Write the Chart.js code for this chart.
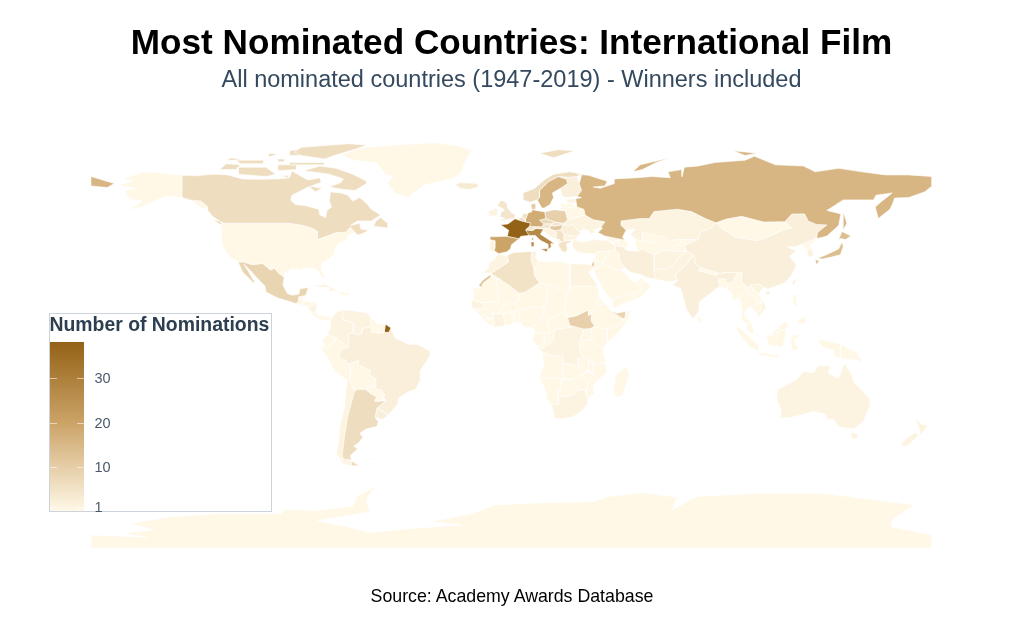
<!DOCTYPE html>
<html>
<head>
<meta charset="utf-8">
<title>Most Nominated Countries: International Film</title>
<script src="https://cdn.jsdelivr.net/npm/chart.js@4"></script>
<style>
  html, body { margin: 0; padding: 0; background: #fff; }
  body { width: 1024px; height: 634px; position: relative; overflow: hidden; font-family: "Liberation Sans", Arial, sans-serif; }
  #map { position: absolute; left: 0; top: 0; }
  #source { position: absolute; left: 0; width: 1024px; top: 586px; text-align: center; font-size: 17.75px; line-height: 20px; color: #000; }
  #legend { position: absolute; left: 48.5px; top: 312.5px; width: 221px; height: 197px; border: 1.5px solid #cdd3da; }
  #legend-title { position: absolute; left: 0; top: 0; font-size: 19.4px; font-weight: bold; line-height: 20px; color: #2c3e50; white-space: nowrap; }
  #legend-bar { position: absolute; left: 0; top: 28px; width: 34px; height: 169px; }
  .tick { position: absolute; width: 7px; height: 1px; background: rgba(255,255,255,.55); }
  .tick-label { position: absolute; left: 45px; font-size: 14.5px; line-height: 16px; color: #4a5a6c; }
</style>
</head>
<body>
<canvas id="map" width="1024" height="634"></canvas>
<div id="legend">
  <div id="legend-title">Number of Nominations</div>
  <div id="legend-bar"></div>
</div>
<div id="source">Source: Academy Awards Database</div>
<script>
// nominations per country, same order as the draw order
const countries = [
  'Antarctica','Russia','Canada','USA','Alaska','Greenland','Iceland','Mexico','Guatemala','Belize','Honduras','El Salvador','Nicaragua','Costa Rica','Panama','Cuba','Haiti','Dominican Rep','Jamaica','Puerto Rico',
  'Colombia','Venezuela','Guyana','Suriname','French Guiana','Brazil','Ecuador','Peru','Bolivia','Paraguay','Argentina','Chile','Uruguay','Falklands',
  'Morocco','Western Sahara','Mauritania','Algeria','Tunisia','Libya','Egypt','Sudan','South Sudan','Chad','Niger','Mali','Burkina Faso','Senegal','Guinea-Bissau','Guinea','Sierra Leone','Liberia','Ivory Coast','Ghana','Togo','Benin','Nigeria','Cameroon','CAR','Gabon','Congo','DR Congo','Uganda','Kenya','Rwanda','Tanzania','Eritrea','Ethiopia','Somaliland','Somalia','Mozambique','Malawi','Zambia','Angola','Namibia','Botswana','Zimbabwe','South Africa','Lesotho','Madagascar',
  'France','Spain','Portugal','UK','Ireland','Belgium','Netherlands','Germany','Denmark','Switzerland','Austria','Italy','Poland','Czechia','Slovakia','Hungary','Romania','Bulgaria','Greece','Albania','Yugoslavia','Croatia','Ukraine','Moldova','Belarus','Lithuania','Latvia','Estonia','Norway','Sweden','Finland',
  'Turkey','Georgia','Armenia','Azerbaijan','Syria','Lebanon','Iraq','Iran','Israel','Jordan','Saudi Arabia','Yemen','Oman','UAE',
  'China','Mongolia','Kazakhstan','Uzbekistan','Turkmenistan','Kyrgyzstan','Afghanistan','Pakistan','India','Nepal','Bangladesh','Myanmar','Thailand','Laos','Vietnam','Cambodia','Malaysia','Indonesia','Philippines','Japan','North Korea','South Korea','Taiwan','Sri Lanka','Papua New Guinea','Australia','New Zealand'
];
const nominations = [
  1,16,7,1,1,1,4,9,1,1,1,1,2,1,1,2,1,1,1,2,
  2,2,1,1,38,3,1,1,1,1,7,2,3,1,
  2,12,1,6,2,1,2,1,10,1,1,1,1,2,1,1,1,1,2,1,1,1,1,1,1,1,1,2,1,1,1,1,1,1,9,1,1,1,1,1,1,1,1,2,1,1,
  38,20,2,5,2,7,6,18,11,5,5,27,10,8,5,12,3,2,6,1,6,2,2,1,1,1,1,2,7,16,3,
  2,1,1,1,1,4,1,3,11,1,1,1,1,1,
  3,1,2,1,1,1,2,2,3,1,1,1,1,1,2,1,1,1,1,14,1,2,2,1,1,2,2
];
// rings of lon,lat pairs, rings split by |
const outlines = {
  'Antarctica': '-180,-84.4 -155.8,-85.4 -166,-83.7 -153.5,-82.3 -162.9,-79.4 -145.3,-76.6 -124.3,-75.2 -98.5,-75.2 -97.4,-73.5 -82.2,-74 -68,-72 -66,-68 -60,-64.5 -57,-63.3 -61,-67 -62,-70 -60.6,-74.5 -83.3,-78.3 -70.5,-80.9 -60,-83.4 -42.4,-81.6 -21.4,-80.2 -34.2,-78.7 -16.7,-75.2 -7.3,-71.6 13.8,-70.6 34.8,-70.2 41.8,-68 55.9,-66.3 71,-68.3 68.7,-73.7 79.2,-68 105,-66.6 133,-66.6 172.8,-71.6 163.5,-77.3 162.3,-80.9 180,-84.4 180,-90 -180,-90',
  'Russia': '28,70 33,69.5 41,67 40,65 35,64.5 38,64 44,66 44,68 54,68.5 60,69 68,68.5 67,71 73,72 73,69 74,73 80,73.5 87,75 100,76 104,77.7 113,74 125,73.5 130,71 140,72.5 150,71 160,69.7 170,69.7 180,69 180,65 177,62.5 170,60 164,59.8 163,57 162,55 157,51 155.7,56 158,58 163,62 156,61 155,59 142,59 135,54.5 141,53 140,48 135,43.5 131,42.5 130.7,43 131,45 135,48.3 130.5,48.5 127,50 125.5,53 120,53 117,49.7 108,49.5 98.5,52 92,50.8 87.5,49.2 83,51 77,54 71,55 61,54 59,51 55,51 47,50 47,48 49,46 47.5,43 48.5,41.8 45,42.5 40,43.5 37,45 39,47 38.2,47.2 40,49.6 35,50.5 31.5,52.5 31,55 28,56 27.5,59.5 30,60 28,60.5 30,63 29,66 30,69.5|-180,69 -175,67.5 -170,66 -173,64.3 -180,65|52,71 55,74 68,77 62,75 56,72|95,80 105,79 100,78|142,54 143.5,49 142,46 142,50',
  'Canada': '-141,69.6 -135,69.3 -128,70 -122,69.8 -115,68 -108,67.8 -100,68 -95,68.5 -94,71.5 -90,69 -87,67.5 -82,68.5 -81.5,66.5 -87,64.5 -94,61 -94.5,58.8 -92.5,57 -88,56.5 -82.5,55 -82,52.5 -79.5,51.5 -79,54.5 -77,56 -78,58.5 -77.5,62.4 -73,62 -70,61 -68,58.5 -65,60 -62,57.5 -60,55 -56,52.5 -60,50 -66,50 -69,48 -65,49 -64.5,46.5 -61,46 -64,44.5 -66,44 -67,45.2 -69,47.3 -71,45.2 -75,45 -79,43.5 -83,42 -83,45.5 -84.5,46.5 -89,48 -95,49 -123,49 -125,50 -128,52 -130,54.5 -130,56 -133,58.5 -137.5,59 -141,60|-62,66 -67,63 -72,63.5 -78,64.5 -73,66.5 -72,68 -78,70 -89,71.5 -82,73.5 -75,72.5 -68,70 -62,67|-62,82.5 -70,83 -90,81.5 -93,79.5 -90,78 -80,76.5 -76,78 -66,81|-117,70 -105,69 -101,70 -105,73 -117,73|-125,72 -118,72 -116,74 -122,74.5|-95,75 -80,75 -80,74 -95,74|-95,80 -88,81 -87,78 -95,78|-59,47.7 -53,47 -53,49 -56,51.5 -58,50|-118,76 -106,76 -106,74.5 -116,74.5|-100,74 -92,74 -92,72 -100,71.5|-128,50.5 -125,50 -123.5,48.5 -125,48.7|-87,65 -81,64 -84,62.5|-120,77 -116,76.5 -118,76 -122,76|-104,79 -100,78.5 -104,77.5|-100,76.5 -97,76.5 -97,75.3 -100,75.3|-99,69.5 -95,69.3 -96,68.5',
  'USA': '-123,49 -95,49 -89,48 -84.5,46.5 -83,45.5 -83,42 -79,43.5 -75,45 -71,45.2 -69,47.3 -67,45.2 -70,43.5 -70.5,41.7 -74,40.6 -75.5,38 -76,35.5 -78,34 -81,32 -81.5,30 -80,26.5 -80.5,25 -82,27 -83,29 -85,29.7 -89,30 -89.5,29 -94,29.5 -97,27.8 -97.3,26 -99.5,27.5 -101.5,29.8 -103,29 -106.5,31.8 -111,31.3 -114.8,32.5 -117.1,32.5 -120.5,34.5 -122.5,37.5 -124.3,40.3 -124,46 -124.7,48.4',
  'Alaska': '-141,69.6 -141,60 -137.5,59 -133,58.5 -130,56 -130,55 -133,55.5 -136,58 -141,59.8 -147,60.7 -152,59 -154,58 -158,56 -164,54.7 -160,57 -158,58.7 -162,59 -165,61 -165,63 -161,64 -166,64.6 -168,65.6 -162,67 -166,68.3 -157,71 -150,70.5',
  'Greenland': '-73,78.2 -68,76 -58,75 -54,70 -51,69 -53,66 -50,62 -44,60 -42,62 -37,65.5 -26,68 -22,70 -20,75 -17,80 -22,82 -33,83.5 -50,82.5 -62,81.5 -67,80.5',
  'Iceland': '-24,65.5 -22,64 -18,63.4 -14,64.5 -14.7,66 -18,66.2 -22,66.4',
  'Mexico': '-117.1,32.5 -114.8,32.5 -111,31.3 -106.5,31.8 -103,29 -101.5,29.8 -99.5,27.5 -97.3,26 -97.8,22.5 -96,19 -94,18.2 -91,18.7 -90.5,21 -87,21.5 -88,18.2 -89,17.9 -91,17.5 -91,16 -92.2,14.6 -96,15.8 -100,17 -105,19.5 -105.5,22 -109,25.7 -112.5,29.5 -114.7,31.5 -113,29 -110,24 -110,23 -112,25 -115,28',
  'Guatemala': '-92.2,14.6 -91,16 -91,17.5 -89,17.9 -89,15.9 -88.3,15.7 -89.3,14.4 -90,13.8',
  'Belize': '-89,17.9 -88,18.2 -88.3,16 -89,15.9',
  'Honduras': '-89.3,14.4 -88.3,15.7 -83.2,15 -84,14.7 -87.3,13',
  'El Salvador': '-90,13.8 -89.3,14.4 -87.3,13.3 -87.8,13.2',
  'Nicaragua': '-87.3,13 -84,14.7 -83.2,15 -83.7,11 -85.7,11',
  'Costa Rica': '-85.7,11 -83.7,11 -82.6,9.5 -83,8.3 -85.7,10',
  'Panama': '-83,8.3 -82.6,9.5 -79.5,9.5 -77.2,8.6 -77.8,7.2 -80,7.3',
  'Cuba': '-85,21.9 -80,23 -75,20.5 -74.2,20.2 -77.7,19.9 -78,21.5',
  'Haiti': '-74.4,18.5 -72.8,19.9 -71.7,19.8 -71.7,18 -72.5,18.2',
  'Dominican Rep': '-71.7,19.8 -68.4,18.7 -71,18 -71.7,18',
  'Jamaica': '-78.3,18.4 -76.3,18.1 -77.2,17.7',
  'Puerto Rico': '-67.2,18.5 -65.7,18.4 -66,18 -67.2,18',
  'Colombia': '-77.2,8.6 -75,10.8 -71.5,12.4 -72,11 -72.5,8 -70,7 -67.5,6 -67.8,2.8 -67,2 -69.8,1.7 -70,0.5 -69.5,-1 -70,-4.2 -72,-2.5 -75,0 -78.8,1.4 -77.5,4 -77.5,7',
  'Venezuela': '-71.5,12 -68,11.5 -62,10.7 -60,8.5 -60.5,6.5 -60,5.2 -61,4.5 -64,4 -64,2 -66,1 -67,2 -67.8,2.8 -67.5,6 -70,7 -72.5,8 -72,11',
  'Guyana': '-60,8.5 -57.2,6 -57,1.9 -59.8,2.5 -60,5.2 -60.5,6.5',
  'Suriname': '-57.2,6 -54,5.9 -54.5,2.3 -57,1.9',
  'French Guiana': '-54,5.9 -51.6,4.2 -52.5,2.3 -54.5,2.3',
  'Brazil': '-51.6,4.2 -50,0 -48,-1 -44,-2.8 -40,-3 -35.2,-5.5 -34.8,-7.5 -37,-11 -39,-14 -39,-18 -41,-22 -45,-23.5 -48.5,-26 -48.7,-28.5 -53.4,-33.7 -53.2,-32.5 -57.6,-30.2 -53.7,-27 -54.6,-25.6 -54.3,-24 -55.8,-22.3 -57.8,-22 -58,-19.8 -58,-17.5 -60.2,-16.3 -60.5,-13.8 -65.3,-11.7 -65.4,-9.7 -69.5,-11 -70.6,-11 -70.6,-9.5 -73,-9.4 -74,-7.3 -72.8,-5 -70,-4.2 -69.5,-1 -70,0.5 -69.8,1.7 -67,2 -66,1 -64,2 -64,4 -61,4.5 -60,5.2 -59.8,2.5 -57,1.9 -54.5,2.3 -52.5,2.3',
  'Ecuador': '-78.8,1.4 -75,0 -75.5,-1.5 -78,-3 -79,-5 -80.3,-3.4 -81,-1',
  'Peru': '-80.3,-3.4 -79,-5 -78,-3 -75.5,-1.5 -75,0 -72,-2.5 -70,-4.2 -72.8,-5 -74,-7.3 -73,-9.4 -70.6,-9.5 -70.6,-11 -69,-12.5 -69,-16 -69.5,-17.5 -70.4,-18.3 -76,-14 -79,-8 -81.3,-5',
  'Bolivia': '-69.5,-11 -65.4,-9.7 -65.3,-11.7 -60.5,-13.8 -60.2,-16.3 -58,-17.5 -58,-19.8 -62.5,-22 -66,-22 -67.2,-22.8 -69,-19 -69.5,-17.5 -69,-16 -69,-12.5 -70.6,-11',
  'Paraguay': '-58,-19.8 -57.8,-22 -55.8,-22.3 -54.3,-24 -54.6,-25.6 -55,-27 -58.5,-27.2 -57.7,-25.3 -60,-24 -62.5,-22',
  'Argentina': '-66,-22 -62.5,-22 -60,-24 -57.7,-25.3 -58.5,-27.2 -55,-27 -53.7,-27 -57.6,-30.2 -58.4,-34 -57,-36 -57.6,-38 -62,-39 -65,-41 -63.5,-42.5 -65.5,-45 -67.5,-46.5 -65.8,-47.5 -69,-50.5 -68.4,-52.3 -72,-52 -72.5,-50 -71.7,-44 -71,-39 -70,-33 -68.3,-27 -67.2,-22.8|-68.6,-52.6 -65.2,-54.8 -68.6,-54.9',
  'Chile': '-69.5,-17.5 -69,-19 -67.2,-22.8 -68.3,-27 -70,-33 -71,-39 -71.7,-44 -72.5,-50 -72,-52 -68.4,-52.3 -71,-53.5 -75,-50 -74,-44 -73.5,-38 -71.5,-30 -70.4,-18.3|-68.6,-52.6 -68.6,-54.9 -72,-54 -74,-52',
  'Uruguay': '-57.6,-30.2 -53.2,-32.5 -53.4,-33.7 -55,-35 -58.4,-34',
  'Falklands': '-61,-51.5 -58,-51.3 -59,-52.3',
  'Morocco': '-5.9,35.8 -2,35.1 -1.2,32.5 -5,30 -8.7,27.7 -13,27.7 -10,29.5 -9.5,32 -6.8,34',
  'Western Sahara': '-8.7,27.3 -8.7,26 -12,23.5 -13,21.5 -14,22.5 -12.5,24.5',
  'Mauritania': '-17,21.3 -13,21.3 -12,23.5 -8.7,26 -8.7,27.3 -4.8,25 -6.5,25 -5.5,15.5 -12,15 -16.5,16.2 -16,19',
  'Algeria': '-2,35.1 1,36.5 8.6,36.9 8.3,33 9.5,30 9.8,26.5 12,23.5 5.8,19.5 3.3,19 1.2,20.8 -4.8,25 -8.7,27.3 -8.7,27.7 -5,30 -1.2,32.5',
  'Tunisia': '8.6,36.9 11,37 10.2,34.3 11.5,33 10,30 9.5,30 8.3,33',
  'Libya': '11.5,33 15.2,32.3 20,32.8 25,31.7 25,20 24,19.5 15,23 12,23.5 9.8,26.5 9.5,30 10,30',
  'Egypt': '25,31.7 31,31.5 34.2,31.3 34.8,29.5 33,28 35.8,23.9 37,22 25,22',
  'Sudan': '25,22 37,22 37.5,18 36.5,14 34.3,10.5 33,9.5 33,12 28,9.5 24,8.7 23.5,10 22.5,13 24,19.5 25,20',
  'South Sudan': '24,8.7 28,9.5 33,12 33,9.5 34.3,10.5 34,7.5 35.5,5 34,4 31,3.7 28,4.5 25,5.2',
  'Chad': '15,23 24,19.5 22.5,13 23.5,10 22,11 19,9 15.5,7.5 14,12.5 14,13 15.5,16.5',
  'Niger': '12,23.5 15,23 15.5,16.5 14,13 13,13.5 8,13 4,12 3,12 2,14 1,15 3.3,16 3.3,19 5.8,19.5',
  'Mali': '-4.8,25 1.2,20.8 3.3,19 3.3,16 1,15 -1,15 -3.5,13.5 -5.5,10.5 -8,10.3 -9,12 -11.5,12.4 -12,15 -5.5,15.5 -6.5,25',
  'Burkina Faso': '-1,15 1,15 2,14 3,12 0,11 -3,11 -3.5,10 -5.5,10.5 -3.5,13.5',
  'Senegal': '-16.5,16.2 -12,15 -11.5,12.4 -16.7,12.4 -17.4,14.7',
  'Guinea-Bissau': '-16.7,12.4 -13.7,12.4 -15,11',
  'Guinea': '-13.7,12.4 -11.5,12.4 -9,12 -8,10.3 -8,8 -10,8.5 -11,10 -13.3,9.5 -15,11',
  'Sierra Leone': '-13.3,9.5 -11,10 -10.5,8.3 -11.5,7',
  'Liberia': '-11.5,7 -10.5,8.3 -8,8 -7.5,4.4',
  'Ivory Coast': '-8,8 -8,10.3 -5.5,10.5 -3.5,10 -3,5 -7.5,4.4',
  'Ghana': '-3,11 0,11 0.5,6 -3,5 -3.5,10',
  'Togo': '0,11 1,11 1.8,6.2 0.5,6',
  'Benin': '1,11 3,12 3.6,10 2.7,6.3 1.8,6.2',
  'Nigeria': '3,12 4,12 8,13 13,13.5 14,12.5 13.3,10 11.5,7 8.7,4.5 5.5,4.3 4,6.3 2.7,6.3 3.6,10',
  'Cameroon': '14,12.5 15.5,7.5 16,2 13,2.2 9.8,2.2 9.5,4 8.7,4.5 11.5,7 13.3,10',
  'CAR': '15.5,7.5 19,9 22,11 23.5,10 24,8.7 25,5.2 27.4,5 22,4 18.6,3.5 16,2',
  'Gabon': '9.8,2.2 13,2.2 14.2,1 14,-2 11,-3.8 9,-1',
  'Congo': '13,2.2 16,2 18.6,3.5 17.7,-1 16,-3 12,-5 11,-3.8 14,-2 14.2,1',
  'DR Congo': '18.6,3.5 22,4 27.4,5 31,3.7 29.7,0 29,-2.5 29.5,-6 30.5,-8.3 28.5,-9 28.5,-12 29.8,-13.3 27,-11.7 22,-11 22,-8 17,-7.5 13,-5.9 12,-5 16,-3 17.7,-1',
  'Uganda': '31,3.7 34,4 34.5,1 33.9,-1 29.7,-1.3 29.7,0',
  'Kenya': '34,4 36,4.5 40,3.8 41,3.9 41,-1.7 39.2,-4.7 33.9,-1 34.5,1',
  'Rwanda': '29.7,-1.3 30.8,-1.3 30.5,-4 29.3,-4.4 29,-2.5',
  'Tanzania': '33.9,-1 39.2,-4.7 39.5,-7 40.4,-10.5 35,-11.5 34.6,-10 32,-9.3 30.5,-8.3 29.5,-6 29.3,-4.4 30.5,-4 30.8,-1.3',
  'Eritrea': '37.5,18 39,15.5 43,12.5 42,12.5 40,14.5 36.5,14',
  'Ethiopia': '36.5,14 40,14.5 42,12.5 43,11 48,8 45,5 41.9,4 41,3.9 40,3.8 36,4.5 34,4 35.5,5 34,7.5 34.3,10.5',
  'Somaliland': '43,11.3 45,10.5 48.9,11.3 48.9,9.5 48,8 43,10',
  'Somalia': '48.9,11.3 51.2,11.8 50,8 46,2.5 41.5,-1.7 41,-1.7 41,3.9 41.9,4 45,5 48,8 48.9,9.5',
  'Mozambique': '40.4,-10.5 40.8,-15 35,-20 35.5,-24 32.8,-26 32,-24.5 32.5,-21 33,-19 30.3,-15.6 34,-14.5 35,-16.5 35,-11.5',
  'Malawi': '33,-9.5 34.6,-10 35,-11.5 35,-16.5 34,-14.5 33,-13.5',
  'Zambia': '22,-11 27,-11.7 29.8,-13.3 28.5,-12 28.5,-9 30.5,-8.3 32,-9.3 33,-9.5 33,-13.5 30.3,-15.6 28,-17 25,-17.8 23,-17.6 22,-16 22,-13',
  'Angola': '13,-5.9 17,-7.5 22,-8 22,-11 22,-13 22,-16 23,-17.6 18,-17.4 11.8,-17.3 13.5,-12.5 13.7,-10',
  'Namibia': '11.8,-17.3 18,-17.4 25,-17.8 21,-18.3 21,-22 20,-22 20,-28.4 17,-28.7 15,-26 14.5,-22',
  'Botswana': '21,-18.3 25,-17.8 27,-20 29.3,-22.2 26,-24.7 23,-25.3 20,-24.8 20,-22 21,-22',
  'Zimbabwe': '25,-17.8 28,-17 30.3,-15.6 33,-19 32.5,-21 31.3,-22.4 29.3,-22.2 27,-20',
  'South Africa': '17,-28.7 20,-28.4 20,-24.8 23,-25.3 26,-24.7 29.3,-22.2 31.3,-22.4 32,-24.5 32.8,-26 32.5,-28.5 30,-31.5 26,-34 20,-34.8 18.3,-34.2 18,-32',
  'Lesotho': '28,-29.2 29.4,-29.8 28,-30.6 27,-29.8',
  'Madagascar': '49.3,-12 50.4,-15.5 47.5,-24.8 45,-25.5 43.5,-23 44,-20 44.5,-16.2',
  'France': '-1.8,43.4 -1.2,46 -4.7,48.4 -1.5,48.7 1.5,50.9 4.2,50 8.2,49 7.6,47.6 6,46.2 7.5,43.8 4,43.4 3.2,42.4|8.6,42.3 9.5,43 9.5,41.5',
  'Spain': '-9.2,43.2 -1.8,43.4 3.2,42.4 0,39.8 -0.5,38 -2,36.8 -5.4,36 -7.4,37.2 -7,38.5 -7,41.5 -8.8,41.9',
  'Portugal': '-8.8,41.9 -7,41.5 -7,38.5 -7.4,37.2 -9,37 -9.5,38.7',
  'UK': '-5.5,50 1.4,51.2 1.7,52.8 0,53.5 -1.8,55.7 -2,57.6 -3.5,58.6 -5,58.6 -6,56.5 -3,54.8 -4.7,53.2 -5,51.7 -3,51.3',
  'Ireland': '-10,52 -6.2,52.2 -6,54 -5.6,54.7 -7,55.3 -8.5,54.8 -10,54',
  'Belgium': '2.5,51.1 4.2,51.4 6,50.8 5.8,49.5 4.2,50',
  'Netherlands': '4.2,51.4 4.8,53 7,53.4 6,50.8',
  'Germany': '6,50.8 7,53.4 8.8,54 8.7,54.9 11,54.4 14.2,53.9 14.7,51 12,50.3 13.8,48.7 13,47.5 7.6,47.6 8.2,49 5.8,49.5',
  'Denmark': '8.7,54.9 8.2,57 10.5,57.7 10.5,55',
  'Switzerland': '6,46.2 7.6,47.6 9.6,47.5 10.4,46.8 9,45.9',
  'Austria': '9.6,47.5 13,47.5 13.8,48.7 17,48.7 16.2,46.8 10.4,46.8',
  'Italy': '6.8,44 6,46.2 9,45.9 10.4,46.8 13.7,46.5 12.4,44.3 13.5,43.6 16,41.9 18.5,40.2 16.8,40.3 17,39 16,38 15.7,40 12.3,41.7 10.2,43.8 7.5,43.8|12.5,38 15.6,38.2 15.1,36.7|8.3,41 9.7,41 9.6,39 8.5,39',
  'Poland': '14.2,53.9 18.5,54.8 23,54.3 24,50.5 22.5,49 19,49.4 14.7,51',
  'Czechia': '12,50.3 14.7,51 18.8,49.6 17,48.7 13.8,48.7',
  'Slovakia': '17,48.7 18.8,49.6 19,49.4 22.5,49 22,48.4 18,47.8',
  'Hungary': '16.2,46.8 17,48 18,47.8 22,48.4 21,46.2 18.5,45.8',
  'Romania': '22,48.4 24.5,48 26.6,48.3 28.2,46 29.7,45.2 28.5,43.7 25,43.7 22.5,44.3 21,46.2',
  'Bulgaria': '22.5,44.3 25,43.7 28.5,43.7 27.7,42 26.5,42 23,41.4 22.4,42.3',
  'Greece': '20,39.7 21,41 23,41.4 26.5,41.6 23.5,40 24,38 23,36.5 21.5,37',
  'Albania': '19.4,42 20.5,42 21,41 20,39.7',
  'Yugoslavia': '18.5,45.8 21,46.2 22.5,44.3 22.4,42.3 23,41.4 21,41 20.5,42 19.4,42 19,43.3 19.4,44.8',
  'Croatia': '13.7,46.5 16.2,46.8 18.5,45.8 19.4,44.8 19,43.3 19.4,42 16,43.5 14.5,45 13.6,45.5',
  'Ukraine': '24,50.5 31.5,52.5 35,50.5 40,49.6 38.2,47.2 35,46 36,45 33.5,44.5 33,46 30.7,46.5 29.7,45.2 28.2,46 26.6,48.3 24.5,48 22,48.4 22.5,49',
  'Moldova': '26.6,48.3 29.5,48 30,46.5 28.2,46',
  'Belarus': '23,52 24,50.5 31.5,52.5 31,55 28,56 26,55.7 23.5,54',
  'Lithuania': '21,56.1 21,55.2 23,54.3 23.5,54 26,55.7',
  'Latvia': '21,56.1 21,57.5 24,57.2 25,58 28,56 26,55.7',
  'Estonia': '24,57.9 23.5,59.2 28,59.5 27.5,57.6',
  'Norway': '5,59 5,62 10,64 14,67.5 18,70 25,71 31,70 28,69 25,68.7 20,69 16,67 14,65 12,63 12,60 11,59 8,58|12,79 20,80.5 27,80 18,77',
  'Sweden': '11,59 12,60 12,63 14,65 16,67 20,69 23.5,67.8 24,66 21,64 17.5,62 18,60 16.5,57 14,55.5 13,55.5',
  'Finland': '21,64 24,66 23.5,67.8 20,69 25,68.7 28,69 29,66 30,63 28,60.5 23,60 21.5,61',
  'Turkey': '26,40 26.5,42 28,41.5 31,41 35,42 41.5,41.5 44.5,39.5 44.5,37.5 42,37 36.5,36.8 36,36 32,36 28,36.7 26.5,38.5',
  'Georgia': '40,43.5 45,42.5 46.5,41.8 43.5,41 41.5,41.5',
  'Armenia': '43.5,41 45.5,41 46.5,39 44.5,39.5',
  'Azerbaijan': '45,42.5 48.5,41.8 50,40.3 49,37.5 48,39 46.5,39 45.5,41 46.5,41.8',
  'Syria': '36,36 36.5,36.8 42,37 39,32.5 36,33 35.8,34.6',
  'Lebanon': '35.2,33 36,33 36.5,34.5 35.9,34.6',
  'Iraq': '39,32.5 42,37 44.5,37.5 46,36 46,33 48.5,30 46.5,29 44.5,29 39,32',
  'Iran': '44.5,39.5 48,39 49,37.5 54,37 56,38 61,35.5 61,33 61,29.5 61.5,25 57,26 56,27 51,28 48.5,30 46,33 46,36 44.5,37.5',
  'Israel': '34.2,31.3 35.2,33 35.5,31.5 34.9,29.5',
  'Jordan': '35.5,31.5 35.5,33 36,33 39,32.5 39,32 37,30 34.9,29.5',
  'Saudi Arabia': '34.8,29.5 37,30 39,32 44.5,29 46.5,29 48.5,28 50,26 51.5,24.5 55,22.7 55.5,20 52,19 49,18.5 45,17.3 43,16.5 42.5,16.5 39,21 36.5,26',
  'Yemen': '43,16.5 45,17.3 49,18.5 52,19 53,16.6 45,13 43.5,12.7',
  'Oman': '52,19 55.5,20 55,22.7 56.4,24.7 59.8,22.5 58,20 55,17 53,16.6',
  'UAE': '51.5,24.5 55,22.7 56.4,24.7 56,26 54,24.2',
  'China': '135,48.3 131,45 130.7,43 128,41.5 124.4,40 121.5,39 118,39 122,37 119,35 122,31 120,27 117,23.5 110,21 108,21.6 106,23 102,22.5 101,21.3 98.5,24 98.7,28 97,28 92,28 88.8,27.5 88,27.8 81,30 78.8,31.5 78,35.5 75,37 74,39.5 80,42 80.5,45 85.5,47 87.5,49.2 91,46 96,43 105,41.5 111,43.5 116,46 120,47 117,49.7 120,53 125.5,53 127,50 130.5,48.5|109,20 111,19.8 110,18.3 108.7,18.7',
  'Mongolia': '87.5,49.2 92,50.8 98.5,52 108,49.5 117,49.7 120,47 116,46 111,43.5 105,41.5 96,43 91,46',
  'Kazakhstan': '47,50 55,51 59,51 61,54 71,55 77,54 83,51 87.5,49.2 85.5,47 80.5,45 80,42 70,42 68,41 66,43 61,44 56,45 56,41.5 53,42 51,44.5 53,46.5 49,46 47,48',
  'Uzbekistan': '56,45 61,44 66,43 68,41 70,42 73,41 71,40 68,37.3 65,37.5 61,41 56,41.5',
  'Turkmenistan': '53,42 56,41.5 61,41 65,37.5 61,35.5 56,38 54,37 53,40',
  'Kyrgyzstan': '70,42 80,42 74,39.5 75,37 71.5,37 68,37.3 71,40 73,41',
  'Afghanistan': '61,35.5 65,37.5 68,37.3 71.5,37 75,37 71,34 69.5,31 66,29.5 61,29.5 61,33',
  'Pakistan': '61,29.5 66,29.5 69.5,31 71,34 75,37 78,35.5 74.5,31 70,27 71,24.5 67,24 61.5,25',
  'India': '74.5,31 78,35.5 78.8,31.5 81,30 80,28.7 88,26.5 88,27.8 88.8,27.5 92,28 97,28 94.5,24 92.5,23 91.5,24.5 92,25 88.5,25.5 89,22 86.5,20 80.5,15.5 80,11 77.5,8 75,12 73,19 72.5,21 69,22.5 71,24.5 70,27',
  'Nepal': '80,28.7 81,30 88,27.8 88,26.5',
  'Bangladesh': '88.5,25.5 92,25 91.5,24.5 92.5,23 92,21 89,22',
  'Myanmar': '92.5,23 94.5,24 97,28 98.7,28 98.5,24 101,21.3 100,20 97.5,18 98.7,11 98,14 97,17 94.5,16 94.5,19 92,21',
  'Thailand': '100,20 101,21.3 101,19 104.5,17.5 105.5,14.5 102.5,13 100.8,13 99.5,10 103,5.8 100,6.5 98.5,8 98.7,11 97.5,18',
  'Laos': '101,21.3 102,22.5 104.5,20 107,16.5 107,15 105.5,14.5 104.5,17.5 101,19',
  'Vietnam': '102,22.5 106,23 108,21.6 105.8,19 109,13 107,10.5 105,8.7 105,10.5 107,12 107,15 107,16.5 104.5,20',
  'Cambodia': '102.5,13 105.5,14.5 107,15 107,12 105,10.5',
  'Malaysia': '100.5,6.5 103,5.8 104,1.5 101,3|111,1.5 115,5 117,7 119,5 117.5,4 114,2.5 111,0.8',
  'Indonesia': '95.3,5.5 98,4 104,-1.5 106,-3.5 105.8,-5.8 102,-4 98,1|105.3,-6.5 108.5,-6.5 114.5,-7.6 114.5,-8.7 106,-7.5|109,1.5 111,0.8 114,2.5 117.5,4 117.5,2 116,-4 110,-3|120,1 125,1.5 121,-1 123,-5 120,-5.5 119.5,-1|131,-1 134,-1 138,-2 141,-2.6 141,-9 138,-8 138,-5.5 133,-4',
  'Philippines': '120.5,18.5 122.2,18.4 122,14 124,13 120.5,14|122,7 126,9.5 126,6.5 124,6',
  'Japan': '131,34 135,35.6 140,38 141.5,41 142,39 140.8,35.5 137,34.6 133,33.7|130,33.5 131.8,33 130.5,31.2|140,42 141.5,45.5 145.3,43.5 143,42 141,42.5',
  'North Korea': '130.7,42.5 129.7,41 127.5,39.5 128.3,38.6 126.7,37.8 125,38 125,39.5 124.4,40 128,41.5',
  'South Korea': '128.3,38.6 129.4,36 129,35 126.5,34.4 126.5,37 126.7,37.8',
  'Taiwan': '121,25 122,25 120.8,22 120,23.5',
  'Sri Lanka': '80,9.7 81.8,7.5 80.5,6 79.8,8',
  'Papua New Guinea': '141,-2.6 145,-5 147.5,-6 150.5,-10.5 147,-9.5 143,-9 141,-9',
  'Australia': '114,-22 122,-18 125,-14.5 129.5,-15 131,-12 136.5,-12 135.5,-15 140,-17.5 142.3,-11 145.3,-15 146.5,-19 150,-22.5 153.3,-26 153.5,-29 150.5,-36 146.5,-39 143,-38.7 140,-38 138,-35 135.5,-35 134,-32.5 129,-31.6 124,-33 120,-34 115,-34.5 115.5,-31 113.5,-26|144.8,-40.7 148.3,-40.9 147.8,-43 146,-43.5',
  'New Zealand': '172.8,-34.5 175.5,-37 178.4,-37.7 177,-39.5 175.2,-41.6 174.5,-39|172.7,-40.5 174.3,-41.7 171,-45 169,-46.6 166.5,-46 168,-44'
};

// colour scale and legend
const scaleStops = [1, 20, 38];
const scaleColors = [[255, 248, 231], [204, 164, 104], [148, 98, 23]];
const legendTicks = [1, 10, 20, 30];
const legendTickLabels = ['1', '10', '20', '30'];

function nomColor(v) {
  const seg = v <= scaleStops[1] ? 0 : 1;
  const t = (v - scaleStops[seg]) / (scaleStops[seg + 1] - scaleStops[seg]);
  const c = scaleColors[seg].map((lo, i) => Math.round(lo + (scaleColors[seg + 1][i] - lo) * t));
  return `rgb(${c[0]},${c[1]},${c[2]})`;
}

function parseRings(text) {
  return text.split('|').map(ring => {
    const pts = ring.trim().split(/\s+/).map(p => {
      const [x, y] = p.split(',').map(Number);
      return { x, y };
    });
    pts.push(pts[0]); // close the border
    return pts;
  });
}

const datasets = [];
countries.forEach((name, i) => {
  parseRings(outlines[name]).forEach(ring => {
    datasets.push({
      label: name,
      data: ring,
      showLine: true,
      fill: 'shape',
      tension: 0,
      pointRadius: 0,
      pointHoverRadius: 0,
      borderWidth: 0.6,
      borderColor: '#ffffff',
      backgroundColor: nomColor(nominations[i])
    });
  });
});

new Chart(document.getElementById('map'), {
  type: 'scatter',
  data: { datasets },
  options: {
    responsive: false,
    animation: false,
    devicePixelRatio: 1,
    layout: { padding: { left: 91, right: 92, top: 0, bottom: 86 } },
    plugins: {
      legend: { display: false },
      tooltip: { enabled: false },
      title: {
        display: true,
        text: 'Most Nominated Countries: International Film',
        color: '#000',
        font: { family: '"Liberation Sans", Arial, sans-serif', size: 35.15, weight: 'bold', lineHeight: 1.2 },
        padding: { top: 23, bottom: 1.7 }
      },
      subtitle: {
        display: true,
        text: 'All nominated countries (1947-2019) - Winners included',
        color: '#34495e',
        font: { family: '"Liberation Sans", Arial, sans-serif', size: 23.5, weight: 'normal', lineHeight: 1.2 },
        padding: { top: 0, bottom: 32.4 }
      }
    },
    scales: {
      x: { type: 'linear', min: -180, max: 180, display: false },
      y: { type: 'linear', min: -90, max: 90, display: false }
    }
  }
});

// colour bar
const barHeight = 169;
const barPerUnit = 4.45;
const barBottomValue = 0.3;
const bar = document.getElementById('legend-bar');
const midPct = (scaleStops[1] - barBottomValue) * barPerUnit / barHeight * 100;
bar.style.background = `linear-gradient(to top, rgb(${scaleColors[0]}), rgb(${scaleColors[1]}) ${midPct}%, rgb(${scaleColors[2]}))`;
legendTicks.forEach((v, i) => {
  const y = barHeight - (v - barBottomValue) * barPerUnit;
  [0, 27].forEach(left => {
    const t = document.createElement('div');
    t.className = 'tick';
    t.style.left = left + 'px';
    t.style.top = y + 'px';
    bar.appendChild(t);
  });
  const l = document.createElement('div');
  l.className = 'tick-label';
  l.style.top = (28 + y - 8) + 'px';
  l.textContent = legendTickLabels[i];
  document.getElementById('legend').appendChild(l);
});
</script>
</body>
</html>
